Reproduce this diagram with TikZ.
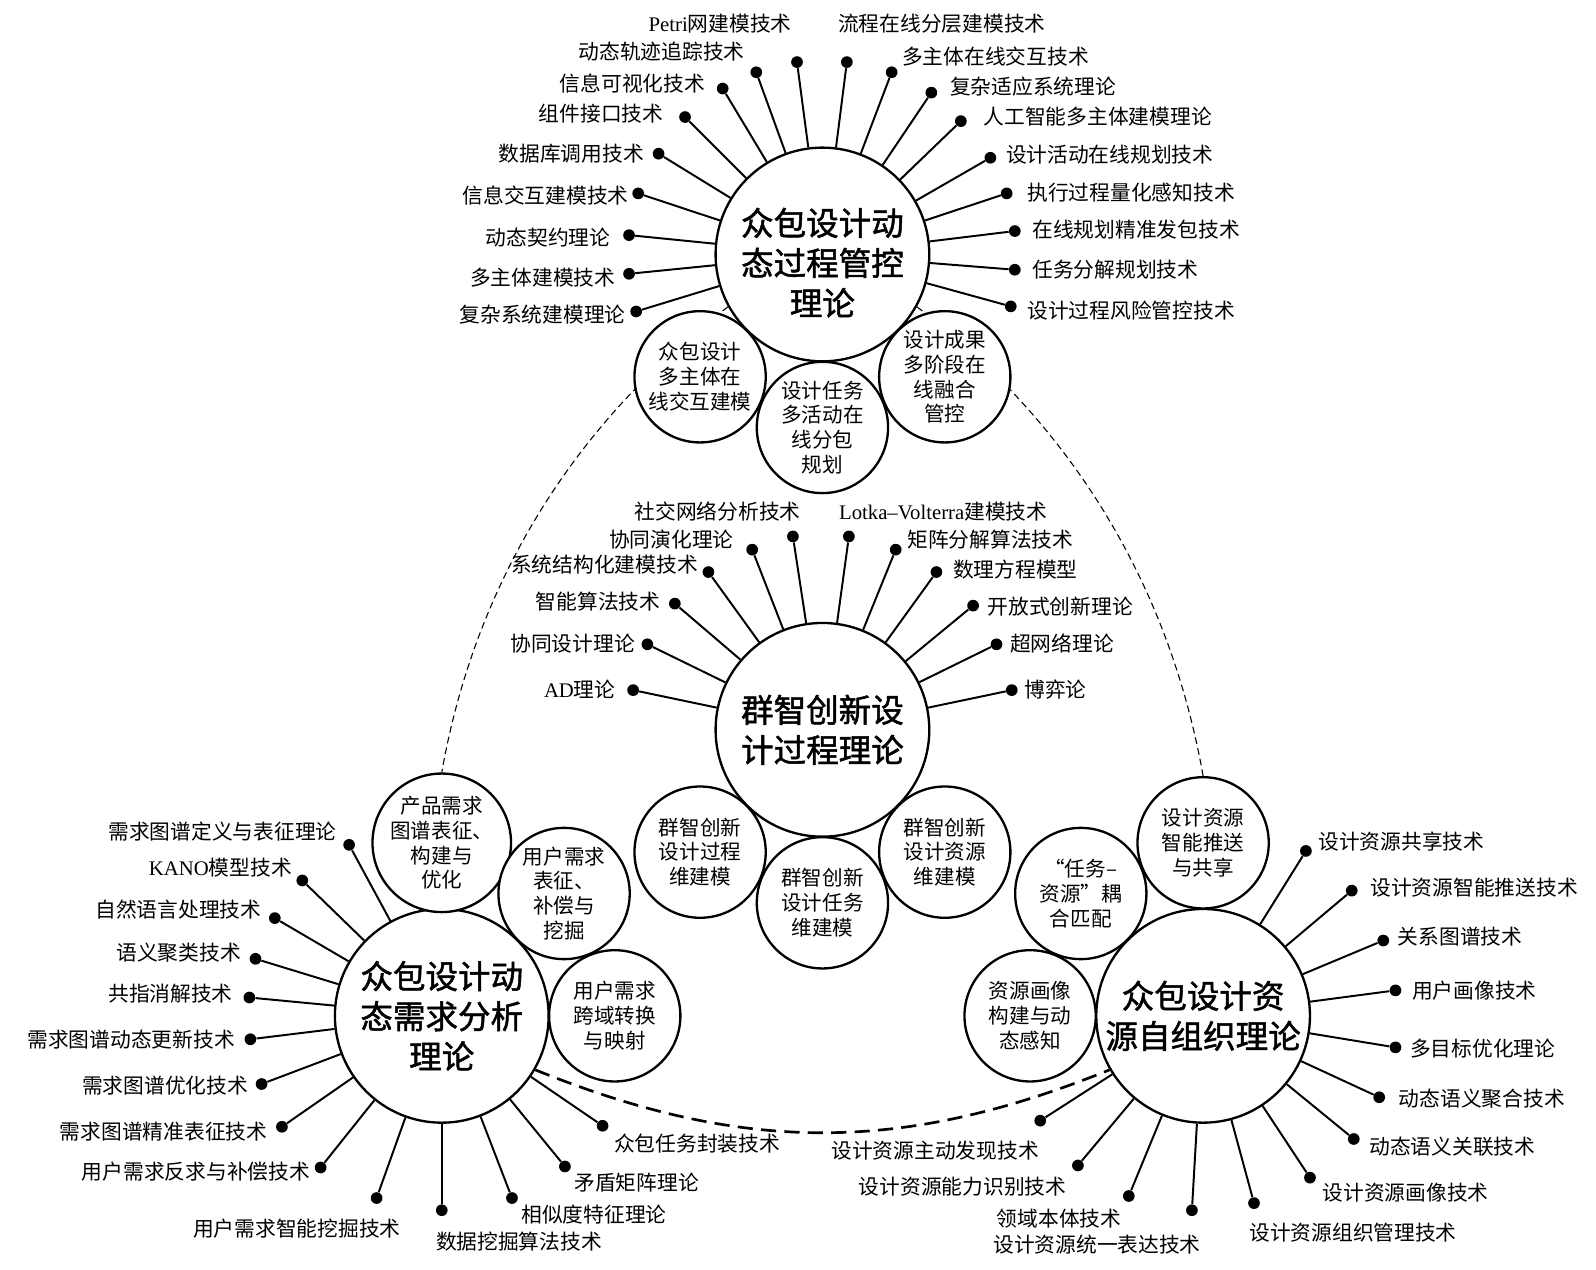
\documentclass[tikz,border=0pt]{standalone}
\usepackage{fontspec}
\setmainfont{Noto Sans CJK SC}
\newfontfamily\hubfont{Noto Sans CJK SC}[FakeBold=1.5]
\newfontfamily\latinserif{Liberation Serif}
\usetikzlibrary{calc,backgrounds}
\tikzset{
  hubcircle/.style={circle,draw,line width=1.3pt,fill=white,minimum size=4.2cm,
    inner sep=0pt,align=center,font=\hubfont\fontsize{18.2}{22.4}\selectfont},
  hubtext/.style={inner sep=0pt,align=center,font=\hubfont\fontsize{18.2}{22.4}\selectfont},
  subcircle/.style={circle,draw,line width=1.3pt,fill=white,minimum size=2.58cm,
    inner sep=0pt,align=center,font=\fontsize{11.5}{13.9}\selectfont},
  spotdot/.style={circle,fill=black,minimum size=0.23cm,inner sep=0pt},
  spokeline/.style={line width=1.1pt},
  leaftext/.style={inner sep=0pt,font=\fontsize{11.6}{13.9}\selectfont},
  linkarc/.style={line width=0.6pt,dash pattern=on 3.8pt off 2.3pt},
  basearc/.style={line width=1.5pt,dash pattern=on 8.5pt off 4.6pt}
}
\begin{document}
\begin{tikzpicture}[x=0.02cm,y=-0.02cm]
  \useasboundingbox (0,0) rectangle (1568,1247);
  % four theory hubs
  \node[hubcircle] (ctrl) at (808,250) {};
  \node[hubtext] (ctrltitle) at ($(ctrl)+(0,8)$) {众包设计动\\态过程管控\\理论};
  \node[hubcircle] (proc) at (808,717) {群智创新设\\计过程理论};
  \node[hubcircle] (need) at (434,998) {众包设计动\\态需求分析\\理论};
  \node[hubcircle] (res) at (1182,998) {众包设计资\\源自组织理论};
  % sub-topics, tangent to their hub
  \node[subcircle] (ctrl1) at ($(ctrl)+(-135:3.4cm)$) {众包设计\\多主体在\\线交互建模};
  \node[subcircle] (ctrl2) at ($(ctrl)+(-90:3.4cm)$) {设计任务\\多活动在\\线分包\\规划};
  \node[subcircle] (ctrl3) at ($(ctrl)+(-45:3.4cm)$) {设计成果\\多阶段在\\线融合\\管控};
  \node[subcircle] (proc1) at ($(proc)+(-135:3.4cm)$) {群智创新\\设计过程\\维建模};
  \node[subcircle] (proc2) at ($(proc)+(-90:3.4cm)$) {群智创新\\设计任务\\维建模};
  \node[subcircle] (proc3) at ($(proc)+(-45:3.4cm)$) {群智创新\\设计资源\\维建模};
  \node[subcircle] (need1) at ($(need)+(90:3.4cm)$) {产品需求\\图谱表征、\\构建与\\优化};
  \node[subcircle] (need2) at ($(need)+(45:3.4cm)$) {用户需求\\表征、\\补偿与\\挖掘};
  \node[subcircle] (need3) at ($(need)+(0:3.4cm)$) {用户需求\\跨域转换\\与映射};
  \node[subcircle] (res1) at ($(res)+(90:3.4cm)$) {设计资源\\智能推送\\与共享};
  \node[subcircle] (res2) at ($(res)+(135:3.4cm)$) {“任务–\\资源”耦\\合匹配};
  \node[subcircle] (res3) at ($(res)+(180:3.4cm)$) {资源画像\\构建与动\\态感知};
  % dashed links between the hubs
  \begin{scope}[on background layer]
    \draw[linkarc] (ctrl.209) to[out=217,in=80,looseness=0.9] (need1.north);
    \draw[linkarc] (ctrl.-29) to[out=-37,in=100,looseness=0.9] (res1.north);
    \draw[basearc] (need.-30) to[bend right=22] (res.-150);
  \end{scope}
  % spokes of the process control hub
  \foreach \px/\py/\an/\lx/\ly/\txt [count=\i] in {
    625/306/east/615/309/复杂系统建模理论,
    618/269/east/605/273/多主体建模技术,
    618/231/east/600/233/动态契约理论,
    627/190/east/618/192/信息交互建模技术,
    647/151/east/633/151/数据库调用技术,
    673/115/east/652/112/组件接口技术,
    710/87/east/693/82/信息可视化技术,
    743/71/east/732/51/动态轨迹追踪技术,
    783/61/east/778/23/{\latinserif Petri}网建模技术,
    832/61/west/823/23/流程在线分层建模技术,
    876/71/west/886/56/多主体在线交互技术,
    915/91/west/933/85/复杂适应系统理论,
    944/119/west/966/115/人工智能多主体建模理论,
    973/155/west/988/152/设计活动在线规划技术,
    989/190/west/1009/189/执行过程量化感知技术,
    997/227/west/1014/226/在线规划精准发包技术,
    997/265/west/1014/265/任务分解规划技术,
    993/301/west/1009/305/设计过程风险管控技术}{
    \node[spotdot] (ctrlp\i) at (\px,\py) {};
    \draw[spokeline] (ctrl) -- (ctrlp\i);
    \node[leaftext,anchor=\an] (ctrlt\i) at (\lx,\ly) {\txt};
  }
  % spokes of the swarm design hub
  \foreach \px/\py/\an/\lx/\ly/\txt [count=\i] in {
    622/678/east/605/677/{\latinserif AD}理论,
    636/633/east/624/632/协同设计理论,
    663/593/east/649/591/智能算法技术,
    696/562/east/686/555/系统结构化建模技术,
    739/540/east/721/530/协同演化理论,
    779/527/east/787/503/社交网络分析技术,
    834/527/west/824/503/{\latinserif Lotka–Volterra}建模技术,
    880/540/west/891/530/矩阵分解算法技术,
    920/562/west/936/560/数理方程模型,
    956/595/west/970/596/开放式创新理论,
    979/633/west/992/632/超网络理论,
    994/678/west/1006/677/博弈论}{
    \node[spotdot] (procp\i) at (\px,\py) {};
    \draw[spokeline] (proc) -- (procp\i);
    \node[leaftext,anchor=\an] (proct\i) at (\lx,\ly) {\txt};
  }
  % spokes of the demand hub
  \foreach \px/\py/\an/\lx/\ly/\txt [count=\i] in {
    343/830/east/331/817/需求图谱定义与表征理论,
    297/865/east/287/852/{\latinserif KANO}模型技术,
    270/902/east/257/894/自然语言处理技术,
    251/942/east/237/936/语义聚类技术,
    245/980/east/229/976/共指消解技术,
    246/1021/east/231/1021/需求图谱动态更新技术,
    257/1065/east/244/1067/需求图谱优化技术,
    277/1107/east/263/1112/需求图谱精准表征技术,
    315/1147/east/305/1151/用户需求反求与补偿技术,
    370/1177/east/394/1207/用户需求智能挖掘技术,
    434/1189/west/428/1220/数据挖掘算法技术,
    503/1177/west/512/1193/相似度特征理论,
    555/1146/west/564/1162/矛盾矩阵理论,
    592/1106/west/603/1124/众包任务封装技术}{
    \node[spotdot] (needp\i) at (\px,\py) {};
    \draw[spokeline] (need) -- (needp\i);
    \node[leaftext,anchor=\an] (needt\i) at (\lx,\ly) {\txt};
  }
  % spokes of the resource hub
  \foreach \px/\py/\an/\lx/\ly/\txt [count=\i] in {
    1283/836/west/1295/827/设计资源共享技术,
    1328/875/west/1346/872/设计资源智能推送技术,
    1359/924/west/1373/920/关系图谱技术,
    1371/973/west/1387/973/用户画像技术,
    1371/1029/west/1385/1030/多目标优化理论,
    1355/1078/west/1374/1079/动态语义聚合技术,
    1330/1119/west/1345/1127/动态语义关联技术,
    1287/1157/west/1299/1172/设计资源画像技术,
    1232/1182/west/1227/1211/设计资源组织管理技术,
    1171/1189/east/1180/1223/设计资源统一表达技术,
    1109/1175/east/1102/1197/领域本体技术,
    1059/1145/east/1048/1166/设计资源能力识别技术,
    1022/1101/east/1021/1130/设计资源主动发现技术}{
    \node[spotdot] (resp\i) at (\px,\py) {};
    \draw[spokeline] (res) -- (resp\i);
    \node[leaftext,anchor=\an] (rest\i) at (\lx,\ly) {\txt};
  }
\end{tikzpicture}
\end{document}
